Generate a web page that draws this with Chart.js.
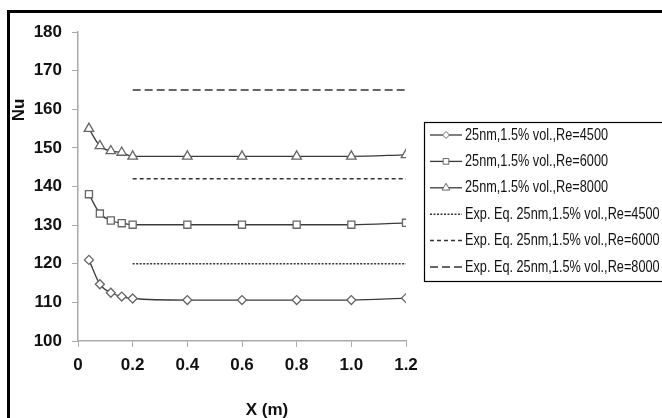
<!DOCTYPE html>
<html>
<head>
<meta charset="utf-8">
<script src="https://cdn.jsdelivr.net/npm/chart.js@4.4.1/dist/chart.umd.min.js"></script>
<style>
html, body { margin: 0; padding: 0; background: #fff; overflow: hidden; }
#wrap { position: relative; width: 662px; height: 418px; }
#frame { position: absolute; left: 7px; top: 10px; width: 720px; height: 480px; border: 3px solid #000; box-sizing: border-box; }
canvas { position: absolute; left: 0; top: 0; }
</style>
</head>
<body>
<div id="wrap">
  <div id="frame"></div>
  <canvas id="chart" width="662" height="418"></canvas>
</div>
<script>
// x positions (m) and Nusselt numbers
const xPos = [0.04, 0.08, 0.12, 0.16, 0.2, 0.4, 0.6, 0.8, 1.0, 1.2];
const nu4500 = [121, 114.7, 112.5, 111.5, 111, 110.6, 110.6, 110.6, 110.6, 111.1];
const nu6000 = [138, 133, 131.2, 130.5, 130.1, 130.1, 130.1, 130.1, 130.1, 130.6];
const nu8000 = [155, 150.5, 149.2, 148.8, 147.8, 147.8, 147.8, 147.8, 147.8, 148.2];

// experimental correlation lines
const expX = [0.2, 1.2];
const exp4500 = [120, 120];
const exp6000 = [142, 142];
const exp8000 = [165, 165];

const labels = [
    "25nm,1.5% vol.,Re=4500",
    "25nm,1.5% vol.,Re=6000",
    "25nm,1.5% vol.,Re=8000",
    "Exp. Eq. 25nm,1.5% vol.,Re=4500",
    "Exp. Eq. 25nm,1.5% vol.,Re=6000",
    "Exp. Eq. 25nm,1.5% vol.,Re=8000"
];

const yTicks = [100, 110, 120, 130, 140, 150, 160, 170, 180];
const xTicks = [0, 0.2, 0.4, 0.6, 0.8, 1, 1.2];

const FONT = "'Liberation Sans', sans-serif";
const LINE = "#3a3a3a";
const MARK = "#666";

const pts = (xs, ys) => xs.map((x, i) => ({ x: x, y: ys[i] }));

function simSet(label, ys, style, r){
    return {
        label: label,
        data: pts(xPos, ys),
        borderColor: LINE,
        borderWidth: 1.3,
        pointStyle: style,
        pointRadius: r,
        pointBorderColor: MARK,
        pointBackgroundColor: "#fff",
        pointBorderWidth: 1.3,
        cubicInterpolationMode: "monotone",
        fill: false
    };
}

function expSet(label, ys, dash){
    return {
        label: label,
        data: pts(expX, ys),
        borderColor: "#333",
        borderWidth: 1.5,
        borderDash: dash,
        pointRadius: 0,
        fill: false
    };
}

// legend drawn inside a framed box, like the original spreadsheet chart
const boxLegend = {
    id: "boxLegend",
    afterDraw(chart){
        const ctx = chart.ctx;
        const bx = 424, by = 122, bw = 300, bh = 159;
        ctx.save();
        ctx.strokeStyle = "#000";
        ctx.lineWidth = 1.2;
        ctx.strokeRect(bx + 0.5, by + 0.5, bw, bh);
        ctx.textBaseline = "middle";
        chart.data.datasets.forEach((ds, i) => {
            const y = 135 + i * 26.4;
            ctx.beginPath();
            ctx.strokeStyle = ds.borderColor;
            ctx.lineWidth = ds.borderWidth;
            ctx.setLineDash(ds.borderDash || []);
            ctx.moveTo(430, y);
            ctx.lineTo(462, y);
            ctx.stroke();
            ctx.setLineDash([]);
            if(ds.pointRadius > 0){
                ctx.fillStyle = "#fff";
                ctx.strokeStyle = MARK;
                ctx.lineWidth = 1;
                Chart.helpers.drawPoint(ctx, {
                    pointStyle: ds.pointStyle,
                    radius: ds.pointRadius - 1,
                    rotation: 0,
                    borderWidth: 1
                }, 446, y);
            }
            // narrow the text a bit, the original uses a condensed face
            ctx.save();
            ctx.translate(465, y);
            ctx.scale(0.77, 1);
            ctx.font = "16.5px " + FONT;
            ctx.fillStyle = "#111";
            ctx.fillText(ds.label, 0, 0);
            ctx.restore();
        });

        // axis titles
        ctx.font = "bold 17px " + FONT;
        ctx.textAlign = "center";
        ctx.fillStyle = "#111";
        ctx.fillText("X (m)", 267, 410);
        ctx.translate(19, 110);
        ctx.rotate(-Math.PI / 2);
        ctx.fillText("Nu", 0, 0);
        ctx.restore();
    }
};

new Chart(document.getElementById("chart"), {
    type: "line",
    data: {
        datasets: [
            simSet(labels[0], nu4500, "rectRot", 4.5),
            simSet(labels[1], nu6000, "rect", 5),
            simSet(labels[2], nu8000, "triangle", 5.5),
            expSet(labels[3], exp4500, [2, 1.5]),
            expSet(labels[4], exp6000, [4, 3]),
            expSet(labels[5], exp8000, [8, 4])
        ]
    },
    options: {
        responsive: false,
        animation: false,
        devicePixelRatio: 1,
        layout: { padding: { left: 0, top: 32, right: 256, bottom: 47 } },
        plugins: {
            legend: { display: false },
            tooltip: { enabled: false }
        },
        scales: {
            x: {
                type: "linear",
                min: 0,
                max: 1.2,
                afterFit: (s) => { s.height = 30; },
                afterBuildTicks: (s) => { s.ticks = xTicks.map(v => ({ value: v })); },
                grid: { drawOnChartArea: false, drawTicks: true, tickLength: 6, color: "#aaa" },
                border: { color: "#aaa", width: 1.5 },
                ticks: {
                    color: "#111",
                    padding: 8,
                    maxRotation: 0,
                    font: { family: FONT, size: 17, weight: "bold" }
                }
            },
            y: {
                min: 100,
                max: 180,
                afterFit: (s) => { s.width = 78; },
                afterBuildTicks: (s) => { s.ticks = yTicks.map(v => ({ value: v })); },
                grid: { drawOnChartArea: false, drawTicks: true, tickLength: 6, color: "#aaa" },
                border: { color: "#aaa", width: 1.5 },
                ticks: {
                    color: "#111",
                    padding: 10,
                    font: { family: FONT, size: 17, weight: "bold" }
                }
            }
        }
    },
    plugins: [boxLegend]
});
</script>
</body>
</html>
